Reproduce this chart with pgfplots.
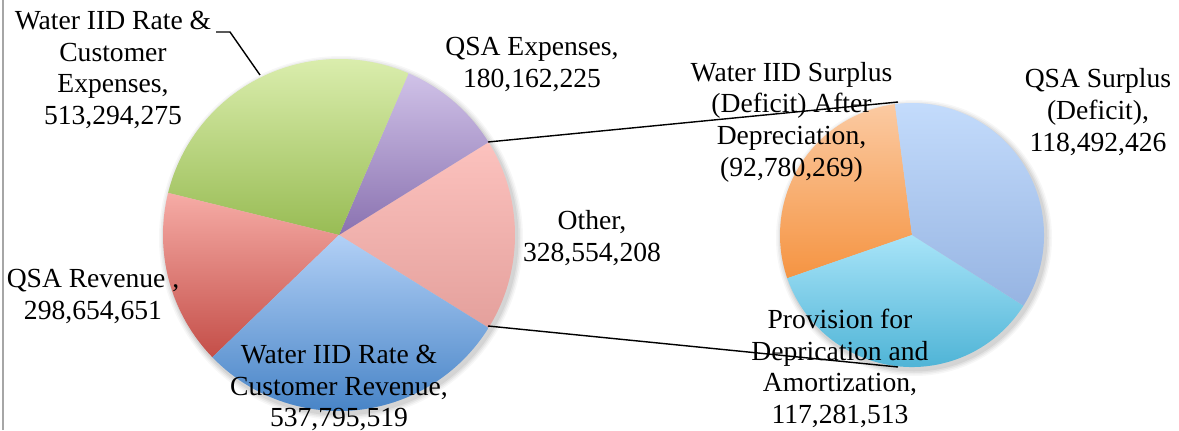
\documentclass[border=0pt]{standalone}
\usepackage{pgfplots}
\pgfplotsset{compat=1.18}
\usepackage{pgfplotstable}
\usepackage{fontspec}
\setmainfont{Liberation Serif}

% slice gradients (top / bottom)
\definecolor{othT}{RGB}{252,194,190}\definecolor{othB}{RGB}{228,160,156}
\definecolor{purT}{RGB}{208,194,232}\definecolor{purB}{RGB}{138,114,176}
\definecolor{grnT}{RGB}{222,240,178}\definecolor{grnB}{RGB}{152,188,84}
\definecolor{redT}{RGB}{246,172,166}\definecolor{redB}{RGB}{196,78,72}
\definecolor{bluT}{RGB}{178,208,246}\definecolor{bluB}{RGB}{66,128,196}
\definecolor{orgT}{RGB}{251,202,162}\definecolor{orgB}{RGB}{245,148,66}
\definecolor{cyaT}{RGB}{168,228,248}\definecolor{cyaB}{RGB}{68,174,210}
\definecolor{lbuT}{RGB}{196,220,252}\definecolor{lbuB}{RGB}{150,180,226}

% main pie, counter-clockwise from the split-off slice
\pgfplotstableread{
value top bottom
328554208 othT othB
180162225 purT purB
513294275 grnT grnB
298654651 redT redB
537795519 bluT bluB
}\leftpie
% second pie: the parts of "Other"
\pgfplotstableread{
value top bottom
92780269 orgT orgB
117281513 cyaT cyaB
118492426 lbuT lbuB
}\rightpie

\def\unit{0.5}
% #1 table, #2 #3 centre, #4 radius (axis units), #5 centre angle of first slice
\newcommand\drawpie[5]{%
  \pgfplotstablegetrowsof{#1}\pgfmathtruncatemacro\pien{\pgfplotsretval-1}%
  \def\pietot{0}%
  \pgfplotsforeachungrouped \i in {0,...,\pien}{%
    \pgfplotstablegetelem{\i}{value}\of{#1}%
    \edef\pietot{\fpeval{\pietot+\pgfplotsretval}}}%
  \pgfplotstablegetelem{0}{value}\of{#1}%
  \edef\pieang{\fpeval{round(#5-180*\pgfplotsretval/\pietot,4)}}%
  \foreach \k/\o in {6/0.03,4.5/0.04,3/0.05,1.5/0.06}{%
    \edef\temp{\noexpand\fill[black,opacity=\o] (axis cs:\fpeval{#2+2},\fpeval{#3-3}) circle[radius=\fpeval{(#4+\k)*\unit}pt];}\temp}%
  \pgfplotsforeachungrouped \i in {0,...,\pien}{%
    \pgfplotstablegetelem{\i}{value}\of{#1}\let\pieval\pgfplotsretval
    \pgfplotstablegetelem{\i}{top}\of{#1}\let\pietop\pgfplotsretval
    \pgfplotstablegetelem{\i}{bottom}\of{#1}\let\piebot\pgfplotsretval
    \edef\pieend{\fpeval{round(\pieang+360*\pieval/\pietot,4)}}%
    \edef\temp{\noexpand\path[top color=\pietop,bottom color=\piebot]
      (axis cs:#2,#3) -- (axis cs:\fpeval{round(#2+#4*cosd(\pieang),3)},\fpeval{round(#3+#4*sind(\pieang),3)})
      arc[start angle=\pieang,end angle=\pieend,radius=\fpeval{#4*\unit}pt] -- cycle;}%
    \temp
    \let\pieang\pieend}%
}

\begin{document}
\begin{tikzpicture}[lab/.style={align=center,inner sep=0pt,font=\fontsize{13.8}{15.85}\selectfont}]
\begin{axis}[hide axis,x=\unit pt,y=\unit pt,
  xmin=0,xmax=1179,ymin=0,ymax=430,clip=false]
\drawpie{\leftpie}{339}{195}{176}{0}
\drawpie{\rightpie}{912}{195}{132}{148.3}

\node[lab] at (axis cs:113,360) {Water IID Rate \&\\Customer\\Expenses,\\513,294,275};
\node[lab] at (axis cs:532,365.5) {QSA Expenses,\\180,162,225};
\node[lab] at (axis cs:592,192) {Other,\\328,554,208};
\node[lab] at (axis cs:93,133.5) {QSA Revenue ,\\298,654,651};
\node[lab] at (axis cs:339,42) {Water IID Rate \&\\Customer Revenue,\\537,795,519};
\node[lab] at (axis cs:791.5,308) {Water IID Surplus\\(Deficit) After\\Depreciation,\\(92,780,269)};
\node[lab] at (axis cs:1098,318) {QSA Surplus\\(Deficit),\\118,492,426};
\node[lab] at (axis cs:840,61.5) {Provision for\\Deprication and\\Amortization,\\117,281,513};

\draw[black,line width=0.7pt] (axis cs:488,288) -- (axis cs:898,328);
\draw[black,line width=0.7pt] (axis cs:488,104) -- (axis cs:898,63);
\draw[black,line width=0.7pt] (axis cs:216,398) -- (axis cs:230,398) -- (axis cs:260,355);
\draw[black!35,line width=1pt] (axis cs:3,0) -- (axis cs:3,430);
\end{axis}
\pgfresetboundingbox
\path[use as bounding box] (current axis.south west) rectangle (current axis.north east);
\end{tikzpicture}
\end{document}
